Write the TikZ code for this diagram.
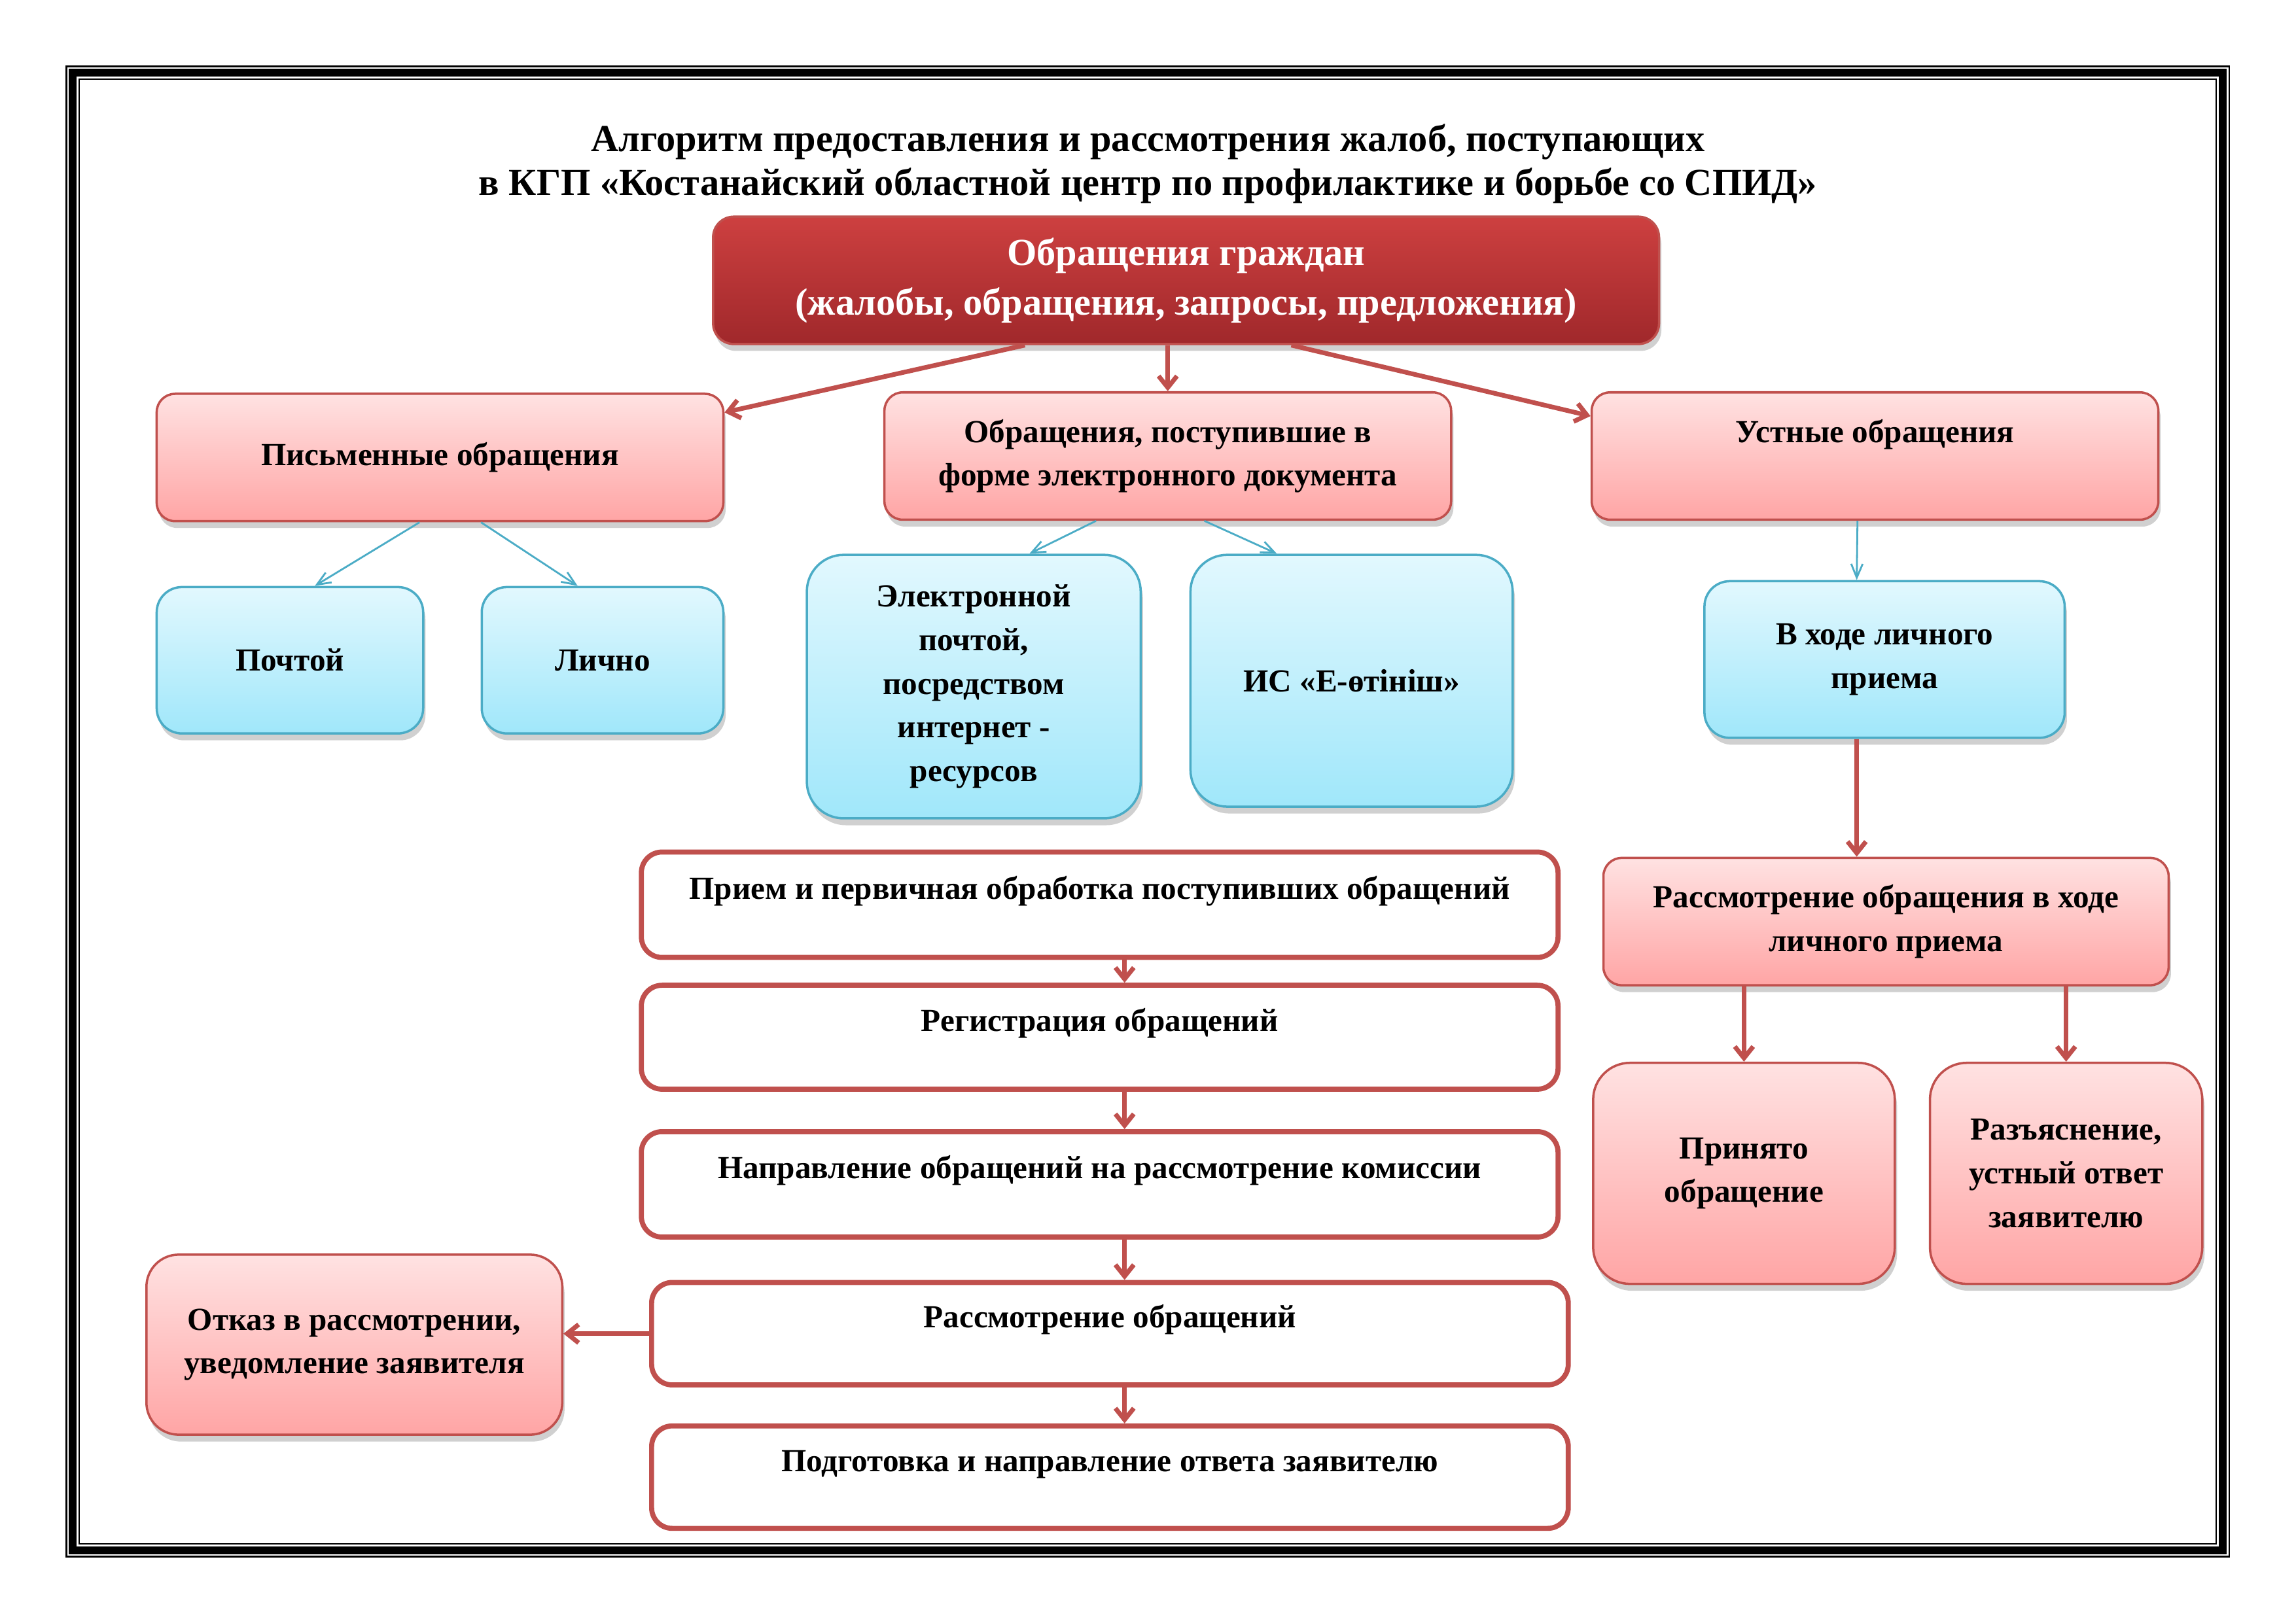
\documentclass[tikz,border=0pt]{standalone}
\usepackage{fontspec}
\setmainfont{Liberation Serif}
\usetikzlibrary{calc,arrows.meta,shadows}
\definecolor{redline}{HTML}{C0504D}
\definecolor{blueline}{HTML}{4BACC6}
\definecolor{redtop}{HTML}{CD4040}
\definecolor{redbot}{HTML}{A0282B}
\definecolor{pinktop}{HTML}{FFE2E2}
\definecolor{pinkbot}{HTML}{FFA5A5}
\definecolor{bluetop}{HTML}{E2F8FE}
\definecolor{bluebot}{HTML}{A0E7FA}
\tikzset{
  wh/.style 2 args={minimum width=#1*0.022379cm, minimum height=#2*0.022379cm},
  boxtext/.style={font=\fontsize{14}{19}\selectfont\bfseries, align=center, inner sep=0pt},
  boxshadow/.style={drop shadow={shadow xshift=1pt, shadow yshift=-3pt, fill=black!60, opacity=0.3}},
  pinkbox/.style={boxtext, boxshadow, draw=redline, line width=1pt, rounded corners=8pt, top color=pinktop, bottom color=pinkbot},
  bluebox/.style={boxtext, boxshadow, draw=blueline, line width=1pt, rounded corners=11pt, top color=bluetop, bottom color=bluebot},
  topbox/.style={font=\fontsize{16.6}{21.6}\selectfont\bfseries, align=center, inner sep=0pt, text=white, boxshadow, draw=redline, line width=1pt, rounded corners=9pt, top color=redtop, bottom color=redbot},
  whitebox/.style={boxtext, draw=redline, line width=2.2pt, rounded corners=9pt, fill=white, text height=10pt, text depth=15pt},
  redarrow/.style={draw=redline, line width=2pt, -{Straight Barb[length=5pt,width=8pt]}},
  bluearrow/.style={draw=blueline, line width=0.8pt, -{Straight Barb[length=6pt,width=5pt]}},
}
\begin{document}
\begin{tikzpicture}[x=0.022379cm, y=-0.022379cm]
  \fill[white] (0,0) rectangle (1568,1108.6);
  \useasboundingbox (0,0) rectangle (1568,1108.6);
  % frame
  \draw[line width=0.7pt] (45.3,45.3) rectangle (1522.3,1063.3);
  \draw[line width=3.6pt] (49.6,49.6) rectangle (1518,1059);
  \draw[line width=0.7pt] (54,54) rectangle (1513.5,1054.5);
  \node[font=\fontsize{16.6}{19}\selectfont\bfseries, align=center] (title) at (784,112) {Алгоритм предоставления и рассмотрения жалоб, поступающих\\в КГП «Костанайский областной центр по профилактике и борьбе со СПИД»};
  \node[topbox, wh={646}{87}] (citizens) at (810,191.5) {Обращения граждан\\(жалобы, обращения, запросы, предложения)};
  % kinds
  \node[pinkbox, wh={387}{87}] (written) at (300.5,312.5) {Письменные обращения};
  \node[pinkbox, wh={387}{87}] (electronic) at (797.5,311.5) {Обращения, поступившие в\\форме электронного документа};
  \node[pinkbox, wh={387}{87}, text height=10pt, text depth=22pt] (oral) at (1280.5,311.5) {Устные обращения};
  \node[bluebox, wh={182}{100}] (post) at (198,451) {Почтой};
  \node[bluebox, wh={165}{100}] (personal) at (411.5,451) {Лично};
  \node[bluebox, wh={228}{180}, rounded corners=16pt] (email) at (665,469) {Электронной\\почтой,\\посредством\\интернет -\\ресурсов};
  \node[bluebox, wh={220}{172}, rounded corners=16pt] (eotinish) at (923,465) {ИС «Е-өтініш»};
  \node[bluebox, wh={246}{107}] (visit) at (1287,450.5) {В ходе личного\\приема};
  \node[pinkbox, wh={386}{87}] (reviewp) at (1288,629.5) {Рассмотрение обращения в ходе\\личного приема};
  \node[pinkbox, wh={206}{151}, rounded corners=16pt] (accepted) at (1191,801.5) {Принято\\обращение};
  \node[pinkbox, wh={186}{151}, rounded corners=16pt] (explain) at (1411,801.5) {Разъяснение,\\устный ответ\\заявителю};
  % steps
  \node[whitebox, wh={626}{72}] (recv) at (751,618) {Прием и первичная обработка поступивших обращений};
  \node[whitebox, wh={626}{71}] (reg) at (751,708.5) {Регистрация обращений};
  \node[whitebox, wh={626}{72}] (direct) at (751,809) {Направление обращений на рассмотрение комиссии};
  \node[whitebox, wh={626}{70}] (review) at (758,911) {Рассмотрение обращений};
  \node[whitebox, wh={626}{70}] (answer) at (758,1009) {Подготовка и направление ответа заявителю};
  \node[pinkbox, wh={284}{123}, rounded corners=14pt] (refuse) at (242,918.5) {Отказ в рассмотрении,\\уведомление заявителя};
  % arrows
  \draw[redarrow] ($(citizens.south west)!0.33!(citizens.south east)$) -- (written.9);
  \draw[redarrow] (citizens.south -| electronic.north) -- (electronic.north);
  \draw[redarrow] ($(citizens.south west)!0.611!(citizens.south east)$) -- (oral.172);
  \draw[bluearrow] ($(written.south)+(-14,0)$) -- ($(post.north)+(17,0)$);
  \draw[bluearrow] ($(written.south)+(28,0)$) -- ($(personal.north)+(-17,0)$);
  \draw[bluearrow] ($(electronic.south)+(-49,0)$) -- ($(email.north)+(38,0)$);
  \draw[bluearrow] ($(electronic.south)+(25,0)$) -- ($(eotinish.north)+(-51,0)$);
  \draw[bluearrow] ($(oral.south)+(-12,0)$) -- ($(visit.north)+(-19,0)$);
  \draw[redarrow] ($(visit.south)+(-19,0)$) -- ($(reviewp.north)+(-20,0)$);
  \draw[redarrow] (reviewp.south -| accepted.north) -- (accepted.north);
  \draw[redarrow] (reviewp.south -| explain.north) -- (explain.north);
  \coordinate (spine) at (768,0);
  \foreach \a/\b in {recv/reg, reg/direct, direct/review, review/answer}
    \draw[redarrow] (\a.south -| spine) -- (\b.north -| spine);
  \draw[redarrow] (review.west) -- (review.west -| refuse.east);
\end{tikzpicture}
\end{document}
